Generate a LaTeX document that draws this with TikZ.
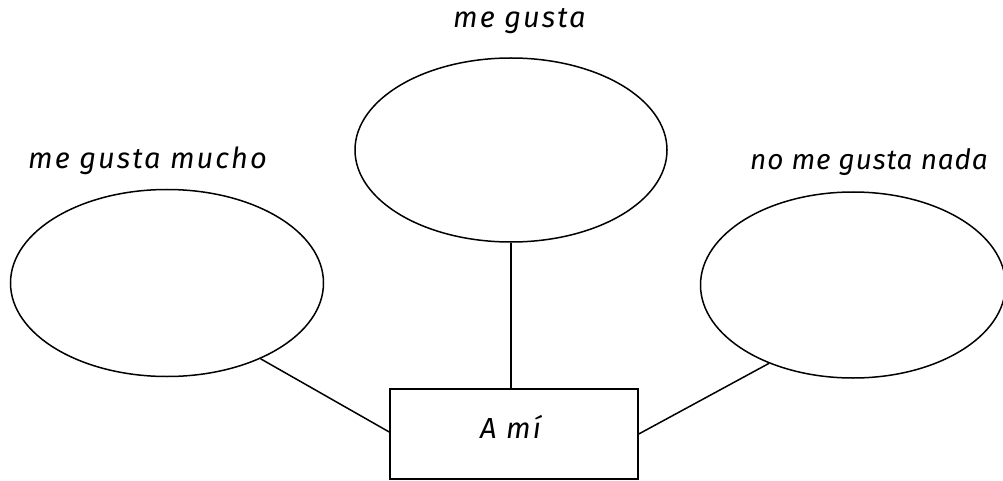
\documentclass[tikz,border=0pt]{standalone}
\usepackage{fontspec}
\setmainfont{Fira Sans}
\usetikzlibrary{shapes.geometric}
\begin{document}
\begin{tikzpicture}[x=1pt,y=-1pt,
  bubble/.style={draw,ellipse,line width=1.5pt,inner sep=0pt},
  label/.style={font=\fontsize{29}{32}\selectfont\itshape\addfontfeature{LetterSpace=7},inner sep=0pt,anchor=base west},
  link/.style={line width=1.5pt}]
\useasboundingbox (0,0) rectangle (1003,481);
\node[bubble,minimum width=313pt,minimum height=187pt] (L) at (167,283) {};
\node[bubble,minimum width=312pt,minimum height=184pt] (T) at (511,150) {};
\node[bubble,minimum width=305pt,minimum height=186pt] (R) at (853,285) {};
\node[draw,line width=1.5pt,minimum width=248pt,minimum height=90pt,inner sep=0pt] (A) at (514,434) {};
\node[label] (tA) at (480,438) {A mí};
\node[label] (tL) at (28,168) {me gusta mucho};
\node[label] (tT) at (453,28) {me gusta};
\node[label,font=\fontsize{28}{32}\selectfont\itshape\addfontfeature{LetterSpace=3}] (tR) at (750,170) {no me gusta nada};
\draw[link] (T.south) -- (T.south |- A.north);
\draw[link] (L.-39) -- (A.west |- 0,432);
\draw[link] (R.-137) -- (A.east |- 0,434);
\end{tikzpicture}
\end{document}
